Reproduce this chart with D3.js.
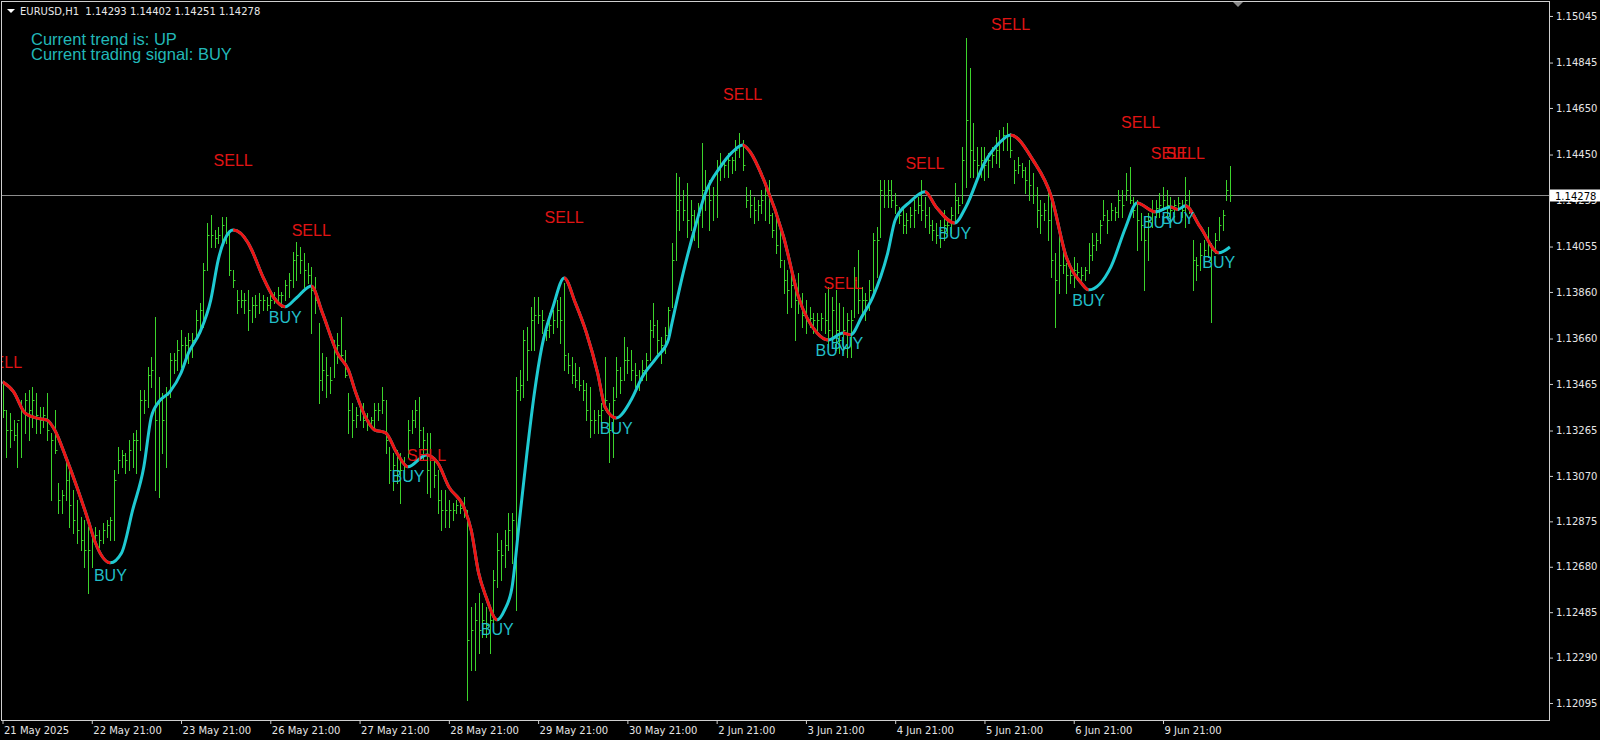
<!DOCTYPE html>
<html><head><meta charset="utf-8">
<script src="https://cdn.jsdelivr.net/npm/d3@7"></script>
<style>html,body{margin:0;padding:0;background:#000;overflow:hidden}</style>
</head><body><svg id="c" width="1600" height="740"></svg>
<script>
// ---------------- DATA ----------------
const symbolName = "EURUSD,H1";
const lastOpen = 1.14293;

const timeLabels = ["21 May 2025","22 May 21:00","23 May 21:00","26 May 21:00","27 May 21:00","28 May 21:00","29 May 21:00","30 May 21:00","2 Jun 21:00","3 Jun 21:00","4 Jun 21:00","5 Jun 21:00","6 Jun 21:00","9 Jun 21:00"];
const timeLabelBars = [0,24,48,72,96,120,144,168,192,216,240,264,288,312];

const priceTicks = [1.15045,1.14845,1.14650,1.14450,1.14255,1.14055,1.13860,1.13660,1.13465,1.13265,1.13070,1.12875,1.12680,1.12485,1.12290,1.12095];

const highs = [
1.13474,1.13353,1.13341,1.13310,1.13298,1.13396,1.13426,1.13439,1.13452,1.13426,
1.13366,1.13366,1.13426,1.13255,1.13353,1.13040,1.13010,1.13139,1.13109,1.13010,
1.12967,1.12894,1.12881,1.12851,1.12825,1.12851,1.12838,1.12868,1.12881,1.12894,
1.13096,1.13195,1.13182,1.13169,1.13225,1.13255,1.13268,1.13439,1.13439,1.13538,
1.13581,1.13753,1.13495,1.13426,1.13452,1.13598,1.13598,1.13654,1.13697,1.13667,
1.13684,1.13684,1.13783,1.13813,1.13985,1.14156,1.14191,1.14126,1.14139,1.14182,
1.14182,1.14126,1.13955,1.13869,1.13869,1.13856,1.13869,
1.13839,1.13847,1.13856,1.13847,1.13839,1.13847,1.13860,1.13882,1.13860,1.13912,
1.13942,1.14032,1.14075,1.14053,1.14028,1.13985,1.13968,1.13925,1.13727,1.13598,
1.13581,1.13538,1.13654,1.13684,1.13753,1.13611,1.13426,1.13383,1.13366,1.13388,
1.13383,1.13341,1.13323,1.13383,1.13383,1.13452,1.13396,1.13195,1.13169,1.13182,
1.13169,1.13152,1.13310,1.13353,1.13396,1.13409,1.13280,1.13255,1.13255,1.13152,
1.13096,1.13010,1.13010,1.12967,1.12954,1.12967,1.12954,1.12980,1.12924,1.12508,
1.12525,1.12568,1.12525,1.12508,1.12495,1.12666,1.12825,
1.12795,1.12838,1.12911,1.12911,1.13495,1.13525,1.13697,1.13710,1.13796,1.13839,
1.13839,1.13783,1.13727,1.13770,1.13783,1.13826,1.13839,1.13899,1.13598,1.13581,
1.13555,1.13538,1.13482,1.13469,1.13452,1.13353,1.13353,1.13383,1.13581,1.13383,
1.13452,1.13581,1.13538,1.13667,1.13624,1.13611,1.13555,1.13525,1.13568,1.13598,
1.13740,1.13813,1.13740,1.13667,1.13710,1.13796,1.14071,1.14371,1.14354,1.14298,
1.14328,1.14255,1.14212,1.14242,1.14500,1.14384,1.14341,1.14311,1.14427,1.14457,
1.14427,1.14457,1.14440,1.14513,1.14543,1.14513,1.14311,1.14298,
1.14268,1.14255,1.14298,1.14328,1.14341,1.14199,1.14182,1.14139,1.13998,1.13955,
1.13942,1.13912,1.13942,1.13856,1.13826,1.13796,1.13770,1.13770,1.13770,1.13856,
1.13882,1.13839,1.13869,1.13813,1.13796,1.13770,1.13783,1.13968,1.14040,1.13882,
1.13856,1.13912,1.14113,1.14139,1.14341,1.14341,1.14341,1.14341,1.14285,1.14225,
1.14225,1.14199,1.14225,1.14255,1.14268,1.14341,1.14268,1.14225,1.14169,1.14156,
1.14169,1.14212,1.14182,1.14225,1.14328,1.14268,1.14483,1.14951,1.14822,1.14586,
1.14483,1.14483,1.14483,1.14457,1.14483,1.14526,
1.14556,1.14569,1.14586,1.14543,1.14427,1.14440,1.14414,1.14397,1.14427,1.14371,
1.14311,1.14255,1.14242,1.14285,1.14255,1.14028,1.14113,1.14071,1.13985,1.13968,
1.14010,1.13985,1.13968,1.13968,1.14071,1.14113,1.14113,1.14169,1.14255,1.14212,
1.14242,1.14225,1.14298,1.14298,1.14371,1.14397,1.14268,1.14255,1.14199,1.14139,
1.14199,1.14255,1.14255,1.14285,1.14311,1.14298,1.14268,1.14255,1.14268,1.14255,
1.14354,1.14298,1.14083,1.14010,1.14071,1.14083,1.14139,1.14071,1.14113,1.14182,
1.14212,1.14341,1.14402];

const lows = [
1.13323,1.13152,1.13195,1.13225,1.13109,1.13152,1.13255,1.13225,1.13280,1.13255,
1.13255,1.13280,1.13225,1.12967,1.13169,1.12911,1.12911,1.12967,1.12851,1.12825,
1.12782,1.12752,1.12679,1.12568,1.12679,1.12782,1.12765,1.12782,1.12808,1.12795,
1.12795,1.13083,1.13109,1.13083,1.13096,1.13109,1.13083,1.13182,1.13341,1.13366,
1.13452,1.13010,1.12980,1.13169,1.13109,1.13409,1.13512,1.13525,1.13538,1.13568,
1.13555,1.13581,1.13654,1.13684,1.13710,1.13955,1.14053,1.14053,1.14071,1.14071,
1.14071,1.13933,1.13882,1.13770,1.13796,1.13770,1.13697,
1.13731,1.13753,1.13770,1.13783,1.13783,1.13791,1.13813,1.13817,1.13796,1.13826,
1.13839,1.13882,1.13912,1.13942,1.13882,1.13899,1.13684,1.13770,1.13383,1.13439,
1.13409,1.13426,1.13495,1.13555,1.13568,1.13495,1.13255,1.13237,1.13280,1.13310,
1.13280,1.13268,1.13298,1.13280,1.13310,1.13341,1.13169,1.13040,1.13010,1.13040,
1.12954,1.13053,1.13152,1.13255,1.13280,1.13195,1.13139,1.12997,1.12980,1.13023,
1.12911,1.12838,1.12851,1.12851,1.12881,1.12911,1.12911,1.12894,1.12108,1.12237,
1.12237,1.12310,1.12379,1.12379,1.12310,1.12422,1.12593,
1.12624,1.12679,1.12752,1.12697,1.12495,1.13396,1.13409,1.13482,1.13611,1.13611,
1.13727,1.13684,1.13654,1.13667,1.13684,1.13710,1.13641,1.13525,1.13512,1.13469,
1.13452,1.13439,1.13396,1.13310,1.13237,1.13255,1.13255,1.13280,1.13353,1.13130,
1.13152,1.13409,1.13426,1.13482,1.13512,1.13482,1.13452,1.13439,1.13482,1.13482,
1.13568,1.13667,1.13598,1.13555,1.13598,1.13684,1.13796,1.13998,1.14126,1.14169,
1.14096,1.14126,1.14083,1.14053,1.14139,1.14212,1.14126,1.14169,1.14182,1.14341,
1.14354,1.14354,1.14371,1.14384,1.14440,1.14384,1.14225,1.14182,
1.14156,1.14169,1.14199,1.14169,1.14156,1.14096,1.14028,1.13968,1.13856,1.13770,
1.13796,1.13654,1.13770,1.13710,1.13684,1.13710,1.13684,1.13697,1.13697,1.13684,
1.13624,1.13654,1.13611,1.13598,1.13598,1.13581,1.13581,1.13753,1.13770,1.13770,
1.13740,1.13783,1.13856,1.13925,1.14096,1.14225,1.14225,1.14225,1.14199,1.14156,
1.14113,1.14113,1.14139,1.14139,1.14199,1.14169,1.14139,1.14113,1.14083,1.14071,
1.14053,1.14083,1.14113,1.14113,1.14169,1.14199,1.14242,1.14311,1.14354,1.14354,
1.14354,1.14354,1.14341,1.14354,1.14397,1.14414,
1.14397,1.14470,1.14470,1.14440,1.14328,1.14371,1.14354,1.14285,1.14255,1.14242,
1.14139,1.14113,1.14169,1.14083,1.13925,1.13710,1.13856,1.13942,1.13856,1.13899,
1.13882,1.13912,1.13899,1.13912,1.13942,1.13998,1.14040,1.14071,1.14169,1.14113,
1.14169,1.14169,1.14182,1.14182,1.14255,1.14242,1.14182,1.14040,1.14083,1.13869,
1.13998,1.14139,1.14182,1.14182,1.14212,1.14182,1.14169,1.14182,1.14212,1.14182,
1.14139,1.14199,1.13869,1.13912,1.13955,1.13968,1.14010,1.13731,1.14028,1.14083,
1.14126,1.14255,1.14251];

const closes = [
1.13353,1.13268,1.13268,1.13246,1.13310,1.13353,1.13396,1.13353,1.13396,1.13332,
1.13310,1.13332,1.13268,1.13225,1.13182,1.12967,1.12988,1.13053,1.12946,1.12881,
1.12838,1.12795,1.12752,1.12752,1.12795,1.12817,1.12795,1.12838,1.12860,1.12881,
1.13053,1.13139,1.13160,1.13139,1.13182,1.13225,1.13225,1.13396,1.13396,1.13504,
1.13525,1.13310,1.13396,1.13310,1.13418,1.13568,1.13568,1.13611,1.13633,1.13633,
1.13654,1.13654,1.13740,1.13783,1.13955,1.14105,1.14105,1.14092,1.14105,1.14148,
1.14105,1.13955,1.13912,1.13826,1.13826,1.13826,1.13783,
1.13804,1.13804,1.13826,1.13826,1.13804,1.13826,1.13834,1.13847,1.13847,1.13890,
1.13912,1.13998,1.14019,1.13998,1.13955,1.13933,1.13869,1.13826,1.13482,1.13525,
1.13504,1.13482,1.13611,1.13633,1.13590,1.13504,1.13353,1.13310,1.13332,1.13353,
1.13310,1.13310,1.13310,1.13353,1.13353,1.13396,1.13225,1.13096,1.13117,1.13096,
1.13096,1.13117,1.13268,1.13310,1.13353,1.13268,1.13225,1.13096,1.13139,1.13074,
1.12967,1.12924,1.12924,1.12924,1.12924,1.12946,1.12933,1.12924,1.12366,1.12409,
1.12452,1.12409,1.12452,1.12430,1.12452,1.12624,1.12752,
1.12731,1.12774,1.12838,1.12881,1.13439,1.13461,1.13654,1.13611,1.13740,1.13761,
1.13761,1.13740,1.13697,1.13718,1.13740,1.13783,1.13740,1.13590,1.13547,1.13504,
1.13482,1.13461,1.13439,1.13353,1.13310,1.13310,1.13332,1.13353,1.13396,1.13268,
1.13396,1.13525,1.13482,1.13568,1.13568,1.13525,1.13504,1.13482,1.13525,1.13568,
1.13697,1.13718,1.13654,1.13633,1.13676,1.13783,1.13998,1.14212,1.14255,1.14212,
1.14169,1.14191,1.14148,1.14191,1.14298,1.14298,1.14255,1.14277,1.14384,1.14405,
1.14405,1.14427,1.14427,1.14470,1.14491,1.14405,1.14255,1.14234,
1.14212,1.14234,1.14255,1.14277,1.14191,1.14126,1.14062,1.13998,1.13912,1.13869,
1.13890,1.13826,1.13826,1.13761,1.13740,1.13748,1.13740,1.13740,1.13748,1.13740,
1.13697,1.13783,1.13697,1.13654,1.13697,1.13740,1.13740,1.13912,1.13826,1.13826,
1.13826,1.13869,1.14083,1.14083,1.14298,1.14277,1.14298,1.14255,1.14234,1.14191,
1.14148,1.14169,1.14191,1.14212,1.14234,1.14212,1.14191,1.14148,1.14126,1.14105,
1.14126,1.14148,1.14148,1.14191,1.14255,1.14234,1.14427,1.14599,1.14470,1.14427,
1.14405,1.14427,1.14405,1.14427,1.14448,1.14470,
1.14513,1.14534,1.14534,1.14470,1.14384,1.14405,1.14384,1.14341,1.14320,1.14277,
1.14212,1.14191,1.14212,1.14169,1.13998,1.13912,1.13976,1.13976,1.13933,1.13933,
1.13955,1.13946,1.13933,1.13955,1.14019,1.14062,1.14083,1.14148,1.14191,1.14169,
1.14212,1.14204,1.14255,1.14234,1.14298,1.14255,1.14212,1.14169,1.14148,1.14083,
1.14169,1.14212,1.14221,1.14234,1.14255,1.14234,1.14212,1.14234,1.14242,1.14212,
1.14255,1.14212,1.13998,1.13976,1.14019,1.14040,1.14062,1.14040,1.14083,1.14148,
1.14191,1.14298,1.14278];

// smoothed trend line (bar index, value)
const lineBars = [0,3,6,9,12,14,17,20,23,25,29,32,35,38,40,42,45,48,50,53,56,58,61,62,66,67,70,73,76,79,83,86,90,93,95,98,100,103,106,109,114,117,120,124,126,128,130,133,135,137,139,141,143,145,148,151,154,157,160,162,165,169,172,176,179,180,183,186,189,193,196,199,201,205,210,214,219,222,226,228,231,234,238,240,244,248,251,256,259,264,268,271,277,282,286,290,292,298,302,305,310,314,316,318,322,327,330];
const lineValues = [1.13474,1.13431,1.13341,1.13319,1.13310,1.13268,1.13152,1.13023,1.12881,1.12782,1.12697,1.12739,1.12924,1.13109,1.13323,1.13388,1.13431,1.13512,1.13598,1.13684,1.13826,1.13998,1.14118,1.14126,1.14071,1.14040,1.13925,1.13834,1.13796,1.13834,1.13886,1.13770,1.13598,1.13525,1.13426,1.13310,1.13268,1.13255,1.13169,1.13109,1.13160,1.13126,1.13023,1.12937,1.12838,1.12654,1.12551,1.12452,1.12495,1.12593,1.12881,1.13169,1.13426,1.13624,1.13796,1.13920,1.13813,1.13684,1.13512,1.13366,1.13319,1.13396,1.13495,1.13581,1.13654,1.13727,1.13942,1.14126,1.14285,1.14397,1.14457,1.14491,1.14461,1.14328,1.14096,1.13839,1.13684,1.13654,1.13684,1.13676,1.13753,1.13839,1.14028,1.14169,1.14247,1.14290,1.14225,1.14156,1.14225,1.14414,1.14500,1.14534,1.14427,1.14268,1.14010,1.13899,1.13869,1.13968,1.14139,1.14242,1.14204,1.14225,1.14214,1.14230,1.14139,1.14028,1.14053];

// signal labels
const sellBars = [0,62,83,114,151,199,226,248,271,306,314,318];
const sellPrices = [1.13560,1.14427,1.14126,1.13160,1.14182,1.14710,1.13899,1.14414,1.15011,1.14590,1.14457,1.14457];
const buyBars = [29,76,109,133,165,223,227,256,292,311,316,327];
const buyPrices = [1.12645,1.13753,1.13070,1.12413,1.13276,1.13611,1.13641,1.14113,1.13826,1.14160,1.14178,1.13989];

const infoLines = ["Current trend is: UP","Current trading signal: BUY"];

// ---------------- DRAW ----------------
const W = 1600, H = 740;
const plot = {left: 2, top: 2, right: 1549, bottom: 720};
const colors = {bar: "#3cd42c", up: "#1fcad2", down: "#ee1414", buyText: "#22bfc8", sellText: "#e01414",
  info: "#22b8b8", axis: "#e6e6e6", border: "#cfcfcf", priceLine: "#8c8c8c"};

const svg = d3.select("#c");
svg.append("rect").attr("width", W).attr("height", H).attr("fill", "#000");

const x = d3.scaleLinear().domain([timeLabelBars[0], timeLabelBars[timeLabelBars.length - 1]]).range([2.5, 1163]);
const y = d3.scaleLinear().domain([1.12022, 1.15105]).range([plot.bottom, plot.top]);

const defs = svg.append("defs");
defs.append("clipPath").attr("id", "plotClip").append("rect")
  .attr("x", plot.left).attr("y", plot.top)
  .attr("width", plot.right - plot.left).attr("height", plot.bottom - plot.top);

const g = svg.append("g").attr("clip-path", "url(#plotClip)");

const n = Math.min(highs.length, lows.length, closes.length);
const bars = d3.range(n);
const px = i => Math.round(x(i)) + 0.5;
const lastClose = closes[n - 1];

// current price line
g.append("line").attr("x1", plot.left).attr("x2", plot.right)
  .attr("y1", Math.round(y(lastClose)) + 0.5).attr("y2", Math.round(y(lastClose)) + 0.5)
  .attr("stroke", colors.priceLine).attr("stroke-width", 1);

// OHLC bars
const barG = g.append("g").attr("stroke", colors.bar).attr("stroke-width", 1);
barG.selectAll("line.hl").data(bars).join("line").attr("class", "hl")
  .attr("x1", px).attr("x2", px)
  .attr("y1", i => Math.round(y(highs[i]))).attr("y2", i => Math.round(y(lows[i])) + 1);
barG.selectAll("line.cl").data(bars).join("line").attr("class", "cl")
  .attr("x1", i => px(i)).attr("x2", i => px(i) + 2)
  .attr("y1", i => Math.round(y(closes[i])) + 0.5).attr("y2", i => Math.round(y(closes[i])) + 0.5);

// trend line
const pts = lineBars.map((b, k) => [x(b), y(lineValues[k])]);
const lineGen = d3.line().curve(d3.curveMonotoneX);
g.append("path").attr("d", lineGen(pts)).attr("fill", "none")
  .attr("stroke", colors.up).attr("stroke-width", 3).attr("stroke-linejoin", "round");
const downRuns = [];
for (let k = 0; k < pts.length - 1;) {
  if (lineValues[k + 1] < lineValues[k]) {
    const s = k;
    while (k < pts.length - 1 && lineValues[k + 1] < lineValues[k]) k++;
    downRuns.push([s, k]);
  } else k++;
}
downRuns.forEach((r, j) => {
  defs.append("clipPath").attr("id", "dn" + j).append("rect")
    .attr("x", pts[r[0]][0]).attr("y", 0)
    .attr("width", pts[r[1]][0] - pts[r[0]][0]).attr("height", H);
  g.append("g").attr("clip-path", `url(#dn${j})`).append("path")
    .attr("d", lineGen(pts)).attr("fill", "none")
    .attr("stroke", colors.down).attr("stroke-width", 3).attr("stroke-linejoin", "round");
});

// signal labels
const labelFont = "16px 'Liberation Sans', Arial, sans-serif";
g.append("g").selectAll("text").data(sellBars).join("text")
  .attr("x", d => x(d)).attr("y", (d, i) => y(sellPrices[i])).attr("dy", "0.36em")
  .attr("text-anchor", "middle").attr("fill", colors.sellText).style("font", labelFont)
  .text("SELL");
g.append("g").selectAll("text").data(buyBars).join("text")
  .attr("x", d => x(d)).attr("y", (d, i) => y(buyPrices[i])).attr("dy", "0.36em")
  .attr("text-anchor", "middle").attr("fill", colors.buyText).style("font", labelFont)
  .text("BUY");

// info text
svg.append("g").selectAll("text").data(infoLines).join("text")
  .attr("x", 31).attr("y", (d, i) => 45 + i * 15)
  .attr("fill", colors.info).style("font", "16.5px 'Liberation Sans', Arial, sans-serif").text(d => d);

// border
svg.append("rect").attr("x", 1.5).attr("y", 1.5)
  .attr("width", plot.right - 1).attr("height", plot.bottom - 1)
  .attr("fill", "none").attr("stroke", colors.border).attr("stroke-width", 1);

// right price axis
const axisFont = "10px 'DejaVu Sans', sans-serif";
const yAxis = d3.axisRight(y).tickValues(priceTicks).tickSize(4).tickPadding(3).tickFormat(d3.format(".5f"));
const ya = svg.append("g").attr("transform", `translate(${plot.right},0)`).call(yAxis);
ya.select(".domain").remove();
ya.selectAll("line").attr("stroke", colors.border);
ya.selectAll("text").attr("fill", colors.axis).style("font", axisFont);

// bottom time axis
const xAxis = d3.axisBottom(x).tickValues(timeLabelBars).tickSize(4).tickPadding(3)
  .tickFormat((d, i) => timeLabels[i]);
const xa = svg.append("g").attr("transform", `translate(0,${plot.bottom})`).call(xAxis);
xa.select(".domain").remove();
xa.selectAll("line").attr("stroke", colors.border);
xa.selectAll("text").attr("fill", colors.axis).attr("text-anchor", "start").attr("x", 1).style("font", axisFont);

// current price box
const yc = Math.round(y(lastClose)) + 0.5;
svg.append("rect").attr("x", plot.right + 1).attr("y", yc - 6).attr("width", W - plot.right - 1).attr("height", 12).attr("fill", "#fff");
svg.append("text").attr("x", plot.right + 6).attr("y", yc + 4).attr("fill", "#000").style("font", axisFont)
  .text(d3.format(".5f")(lastClose));

// header
svg.append("polygon").attr("points", "7,9 15,9 11,13").attr("fill", "#fff");
svg.append("text").attr("x", 20).attr("y", 15).attr("fill", "#e8e8e8").style("font", axisFont)
  .style("white-space", "pre")
  .text(`${symbolName}  ${[lastOpen, highs[n - 1], lows[n - 1], lastClose].map(d3.format(".5f")).join(" ")}`);

// shift marker (top right)
svg.append("polygon").attr("points", "1233,2 1243,2 1238,7").attr("fill", "#8a8a8a");
</script>
</body></html>
